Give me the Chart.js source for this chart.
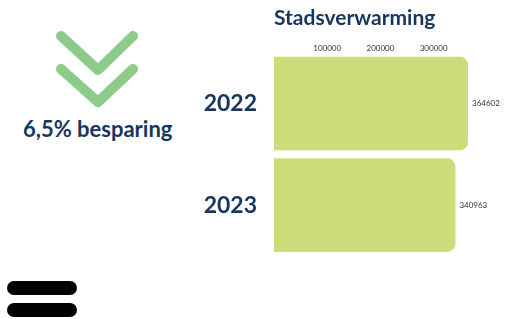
<!DOCTYPE html>
<html lang="nl">
<head>
    <meta charset="UTF-8">
    <title>Stadsverwarming</title>
    <script src="https://cdn.jsdelivr.net/npm/chart.js@4.4.1/dist/chart.umd.min.js"></script>
    <style>
        html, body { margin: 0; padding: 0; background: #fff; }
        body { width: 514px; height: 319px; position: relative; overflow: hidden; font-family: Lato, sans-serif; }
        #chart { position: absolute; left: 0; top: 0; }
        .arrows { position: absolute; left: 0; top: 0; }
        .saving {
            position: absolute; left: 23px; top: 115px;
            font-size: 22px; font-weight: bold; color: #14365f; white-space: nowrap;
        }
        .menu-bar {
            position: absolute; left: 7px; width: 70px; height: 14px;
            background: #000; border-radius: 7px;
        }
    </style>
</head>
<body>
    <svg class="arrows" width="200" height="120">
        <polyline points="61,36 98,70 133,36" fill="none" stroke="#8dcb8b" stroke-width="10" stroke-linecap="round" stroke-linejoin="round"/>
        <polyline points="61,69 98,102 133,69" fill="none" stroke="#8dcb8b" stroke-width="10" stroke-linecap="round" stroke-linejoin="round"/>
    </svg>
    <div class="saving">6,5% besparing</div>
    <div class="menu-bar" style="top:281px"></div>
    <div class="menu-bar" style="top:303px"></div>
    <canvas id="chart" width="514" height="319"></canvas>

    <script>
        const years = ['2022', '2023'];
        const usage = [364602, 340963];
        const tickValues = [100000, 200000, 300000];

        const navy = '#14365f';
        const barColor = '#cedb7a';

        // draws the number right next to the end of each bar
        const valueLabels = {
            id: 'valueLabels',
            afterDatasetsDraw(chart) {
                const ctx = chart.ctx;
                const meta = chart.getDatasetMeta(0);
                ctx.save();
                ctx.font = '8px Lato, sans-serif';
                ctx.fillStyle = '#333';
                ctx.textAlign = 'left';
                ctx.textBaseline = 'middle';
                meta.data.forEach((bar, i) => {
                    ctx.fillText(String(usage[i]), bar.x + 4, bar.y);
                });
                ctx.restore();
            }
        };

        const ctx = document.getElementById('chart').getContext('2d');
        new Chart(ctx, {
            type: 'bar',
            data: {
                labels: years,
                datasets: [{
                    data: usage,
                    backgroundColor: barColor,
                    borderRadius: 8,
                    borderSkipped: 'start',
                    categoryPercentage: 1,
                    barPercentage: 0.92
                }]
            },
            options: {
                indexAxis: 'y',
                responsive: false,
                animation: false,
                devicePixelRatio: 1,
                layout: { padding: { top: 6, right: 46, bottom: 63, left: 0 } },
                plugins: {
                    legend: { display: false },
                    tooltip: { enabled: false },
                    title: {
                        display: true,
                        text: 'Stadsverwarming',
                        align: 'start',
                        fullSize: false,
                        color: navy,
                        font: { family: 'Lato', weight: 'bold', size: 21, lineHeight: 1.2 },
                        padding: { top: 0, bottom: 0 }
                    }
                },
                scales: {
                    x: {
                        position: 'top',
                        min: 0,
                        max: Math.max(...usage),
                        grid: { display: false, drawTicks: false },
                        border: { display: false },
                        afterFit(scale) { scale.height = 52.6 - 31.2; },
                        afterBuildTicks(scale) {
                            scale.ticks = tickValues.map(v => ({ value: v }));
                        },
                        ticks: {
                            color: '#333',
                            padding: 0,
                            font: { family: 'Lato', size: 8, lineHeight: 1 },
                            callback: v => String(v)
                        }
                    },
                    y: {
                        grid: { display: false, drawTicks: false },
                        border: { display: false },
                        afterFit(scale) { scale.width = 274; },
                        ticks: {
                            color: navy,
                            padding: 17,
                            font: { family: 'Lato', weight: 'bold', size: 23 }
                        }
                    }
                }
            },
            plugins: [valueLabels]
        });
    </script>
</body>
</html>
